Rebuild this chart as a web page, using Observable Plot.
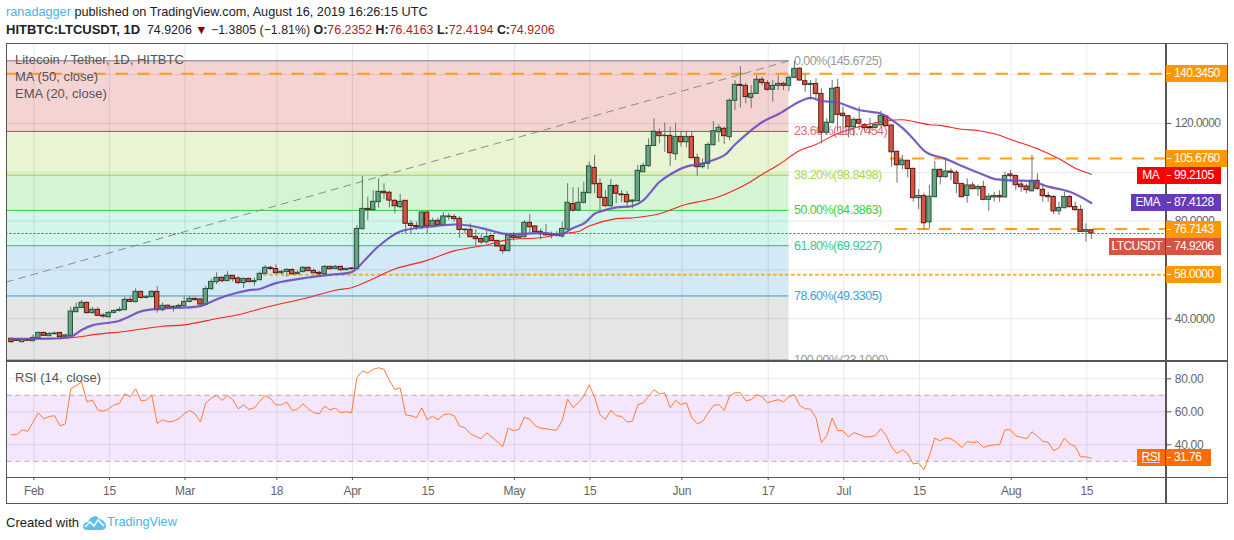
<!DOCTYPE html>
<html><head><meta charset="utf-8">
<script src="https://cdn.jsdelivr.net/npm/d3@7"></script>
<script src="https://cdn.jsdelivr.net/npm/@observablehq/plot@0.6"></script>
<style>
html,body{margin:0;padding:0;background:#fff;width:1234px;height:540px;overflow:hidden}
body{font-family:"Liberation Sans",Arial,sans-serif;position:relative}
#stage{position:absolute;left:0;top:0;width:1234px;height:540px}
#stage svg{position:absolute;left:0;top:0;background:transparent}
.t{position:absolute;white-space:nowrap}
.box{position:absolute;height:17px;line-height:17px;color:#fff;font-size:12px;letter-spacing:-.55px;box-sizing:border-box;white-space:nowrap}
.tick{position:absolute;left:1px;top:8px;width:4px;height:1px;background:#fff}
.line{position:absolute;background:#555}
</style></head><body><div id="stage"></div>
<script>
// ---------- daily candles, first candle = 28 Jan 2019 ----------
const firstDay = Date.UTC(2019, 0, 28);
const opens = [
31.8,31.35,30.4,31.35,30.8,32,34.2,32.85,33.65,34.2,
32.6,33,42.7,44.45,46.5,42.3,43.65,41.3,40.6,42.4,
43.2,43.5,47.75,46.8,51,48.55,48.85,51,43.5,45.3,
44.45,44.75,45.15,46.9,48.15,47.9,45.7,52.1,54.95,56.75,
55.4,57.6,56.5,54.6,56.3,55,55.8,58.4,60.85,60.4,
58.65,59.2,60,58.25,59.1,60.85,59.6,58.8,58.25,61.25,
60.4,61.25,59.9,60.6,60.3,76.7,85,84.5,87.75,92,
91.6,88.3,85.7,88.3,78.9,78,77.5,83.5,77.9,80.1,
78.2,81.6,81.7,80.9,76.5,76.4,73.5,72.7,71.3,73.9,
71.9,69.9,67.7,73.9,73.1,73.4,79.3,77.8,75.6,74.9,
74.5,74.5,73.7,76.5,87,84.3,87.5,91.4,101.8,95.25,
89.5,86.1,94.4,90.9,90.7,87.9,88.15,100,102.5,110.8,
116.2,114.8,114.9,107.4,114.5,112.3,114.5,105.9,102.1,103.45,
111.1,116.4,117.8,114.4,129.3,135.8,135.4,130.5,132.1,137.9,
136.5,133.8,135.4,136.2,135.4,138.7,142.4,137.3,135.8,136.2,
132.1,116.2,120.3,134.6,124,123,118.5,121.5,119.3,118.5,
118.1,119.2,122.85,119.15,108.4,102.9,104.7,101.4,89.4,90.3,
79.5,89.8,101,98,100.3,99.8,95.25,90.3,94.6,93.1,
94,88.7,89.7,90.3,89.7,99.1,98.5,95,94.2,92.2,
96.5,92.8,90.3,89.9,84,85.3,89.9,85.8,84.6,75.6,
76.2352];
const highs = [
32,31.8,31.8,31.5,33.4,34.6,34.6,34.2,34.5,34.35,
33.65,44.7,46.4,47.5,46.8,44.7,44.45,42.15,42.95,43.65,
44.7,48.85,48.85,52.25,51.3,49.5,51.55,53.2,46.5,45.7,
45.4,45.95,48.85,48.85,48.5,48.1,53.3,56.3,58.8,57.3,
59.3,57.8,57.3,56.7,56.7,56.7,59.1,61.8,61.5,62.1,
59.75,60.6,60.4,59.75,61.4,61.1,60.4,59.5,61.8,61.5,
61.8,61.5,60.7,60.85,78.2,98.3,89.8,92.5,97.3,95.3,
92.3,88.8,90.9,88.4,80.2,79.6,83.8,84.1,81.2,81.2,
83.5,83.2,82.7,81.9,76.7,78.9,76.5,74.4,75.9,74.2,
72,70.1,74.4,75.4,74.8,80.2,82.7,78,76.8,78.6,
75.5,75.7,79.6,95.3,93.6,93.6,95.9,104.1,106.9,97.3,
92.5,97,95,92.5,92.1,88.7,102.8,103.7,113.7,121.9,
117.8,120.25,118.5,120.1,116.7,116.8,116.4,107.5,105.5,112.1,
120.8,119.4,118.5,130.1,137.6,143.3,136.5,135.5,139.6,139,
137.6,137.6,139.6,136.9,139.6,145.67,143,140,137.6,138.3,
134.2,122,137.6,138,126.7,123.3,122.3,126.7,120,122,
120.5,125,123.1,119.4,108.6,106.9,105,101.7,92.9,91.4,
94.6,104.4,101.4,105.5,101.4,100.7,95.5,97.3,95.9,94.8,
96.3,91.2,91.8,92.5,100,100.7,98.8,96.6,95.2,106.9,
99.4,95.2,91.8,90.5,87.7,91.8,90.5,87.7,86.4,78.9,
76.4163];
const lows = [
30,30.7,30.1,30.7,30.7,31.8,32.7,32.7,33.5,32.3,
32.3,32.85,42.4,44.05,41.9,41.9,40.8,40.2,40.35,41.9,
42.7,43.4,46.8,46.5,48,48,48.55,42.3,42.95,44.05,
42.7,44.45,44.75,46.5,47.3,45.6,45.5,51.6,54,54.6,
55.2,55,54,52.4,54.7,53.3,55.6,58.1,59.75,58.1,
58.1,57,57.7,58,58.8,59.3,58.4,57.8,58,60,
60.1,59.3,59.6,59.9,60.15,76.4,80.2,84,85.3,88.8,
85.4,83,85,74.8,74.8,76.1,76.4,75,77.5,78,
77.9,80.2,79.6,72.9,74.8,73.1,70,70.4,70.7,71.5,
69.3,66.4,67.5,71.8,72.9,73.3,74.8,74.8,72.3,73.8,
72.7,73.4,73,76.4,83.6,84,87,91.2,91.2,84.3,
85.7,85.7,87.1,87.7,85.7,85,88,99.9,102.1,110.5,
111.65,108.2,102.4,104.8,110.3,110,105.5,98.4,101.4,101.1,
110.7,112.3,111.4,113,125.3,126.3,128,126,132,135.5,
133.2,128.7,133.5,133.5,133,138.3,137.3,132.8,129.7,130.1,
111.6,115,119.8,116.4,115,114.1,114.7,117.1,116.5,116,
117.8,118.9,118.5,102.1,95.5,101,97.7,87.7,84.7,76.4,
76.8,89.5,94.8,97.6,96.6,91.2,89.5,87.3,92.8,90.1,
88.4,84,87.7,87.7,89.5,95.9,92.5,91.8,91.2,92,
92.5,87.7,87.7,82.7,82.3,85,85.4,84,75.3,71.4,
72.4194];
const closes = [
30.4,30.95,31.35,30.95,32.15,34.2,33,33.8,33.95,32.45,
33.15,42.95,44.45,46.5,42.3,43.65,41.2,40.9,42.4,43.2,
43.65,47.75,46.9,51,48.55,48.85,51,43.5,45.3,44.3,
44.85,45.3,46.9,48.15,47.6,45.8,52.2,55.1,56.75,55.4,
57.6,56.2,54.6,56.3,55,55.5,58.4,60.85,60.4,58.65,
59.2,60,58.25,58.8,60.85,59.5,58.65,58.25,61.25,60.3,
61.25,59.9,60.4,60.3,76.8,85,84.5,87.9,92,91.4,
88.4,86.1,87.9,78.9,78,77.5,83.5,77.9,80.1,78.3,
81.9,81.9,80.8,76.4,76.3,73.4,72.6,71.3,73.5,71.8,
69.6,67.7,74.1,73.1,73.7,79.3,77.5,75.5,74.6,74.2,
74.1,74,76.8,87.5,84.3,87.5,91.6,102.4,95.1,89.5,
86.1,94.4,91.2,90.6,87.7,88.4,100.6,102.6,110.8,116.6,
114.8,115,107.8,114.5,112.3,114.5,105.8,102.1,103.45,111.2,
116.8,118.2,114.8,129.3,135.8,135.4,130.8,132.1,137.9,136.6,
133.8,135.4,136.2,135.4,138.7,142.4,137.6,135.8,136.2,132.1,
116.2,120.3,134.2,123.5,123,118.5,121.5,119.9,118.1,118.1,
119.3,123.1,118.9,108.2,102.9,104.8,101.3,89.4,90.3,79.1,
90,101,98,100.3,99.8,95.25,89.8,94.6,93.1,94,
88.7,90,90.3,89.7,98.5,98.4,94.7,93.9,92.7,96.5,
93.2,90.2,89.8,84,85.4,89.9,85.7,84.5,75.6,76.3,
74.9206];

// ---------- indicators (day index, value) ----------
const emaDays = [0,4,11,13,15,20,24,27,35,37,40,44,46,49,55,59,63,64,68,72,78,82,85,88,91,95,98,102,104,106,108,109,112,115,117,120,122,125,128,132,134,137,139,142,146,148,150,153,157,161,162,165,167,169,170,173,176,180,182,186,189,192,196,200];
const emaValues = [31.8,31.8,32.6,35.4,37.3,39.2,43,44.05,45.15,47,49.5,51.7,52.2,54.6,56.9,58,59.1,60.7,69.7,75.7,77.8,78.6,78.1,76.6,74.9,74.8,75.2,74.8,77.2,79,83,83.9,85.6,86.2,88.5,96,99.1,102.3,103.6,106.9,111.4,117.2,120.5,123.8,129,130.5,129.2,128.6,125.5,124.1,122.9,118.2,113.7,108.9,107.5,105.5,102.6,99,97.3,96.6,96.3,94.1,92,87.4128];
const maDays = [4,11,16,21,28,32,38,42,47,55,60,63,67,71,77,82,88,92,98,103,105,107,112,115,120,125,128,131,136,139,142,146,149,153,158,162,165,170,172,176,179,182,186,190,194,197,200];
const maValues = [31.8,32.2,33.7,34.8,36.9,37.5,40,41.6,44.6,48.7,51.7,52.7,56.4,60.4,63.9,67.8,70.2,72.4,73.2,75.1,75.7,78,81,81.3,83,86.9,88.2,90,95,99.1,103,108.9,111.4,115.9,119.3,121,121.5,119.5,119.2,117.6,117.1,115.75,112.7,109.6,105.5,101.7,99.2105];
const rsiValues = [
46.1,46.1,49.1,48.1,53.7,59.4,55.6,57.2,57.6,51.5,
52.7,73.9,75.8,78,66,67.1,61.2,60.4,61.8,64.2,
65,70.9,69.1,73.9,66.7,67.1,70.1,52.9,55.2,53.9,
54.3,55.8,58.8,60.8,58.8,53.9,65.3,68.3,69.9,66.9,
69.9,67.3,61.8,64.2,61.4,62.4,66.3,69.9,67.9,64.2,
64.2,65.9,60.8,61.6,64.8,61.8,59.4,58.8,63.4,61.2,
62.2,59.4,60,59.4,81,84.6,83.6,85.7,86.7,85.7,
79,73.5,74.5,58.2,57.6,56.4,62.4,55.2,57.4,55.2,
58.2,58.8,57.6,51.3,50.3,46.7,45.1,43.6,47.3,44.6,
41.8,38.8,50.1,48.5,49.3,56.8,55.4,51.5,50.1,49.7,
49.1,48.9,54.7,67.7,62.6,65.5,69.5,76.4,68.9,58.2,
55.4,61,57.6,57.2,53.9,54.3,64.2,65.4,69.3,73.3,
70.9,71.5,62.4,66.9,64.4,65.4,56.4,52.7,54.1,59.2,
63.8,64.4,60.8,69.5,71.5,71.5,66.7,67.3,70.3,69.3,
65.4,66.5,67.3,66.1,69.3,70.3,63.8,61.8,61.6,56.4,
41.2,45.6,56.2,48.7,48.5,44.8,47.3,46.3,44.8,44.8,
45.6,49.7,45.6,38.6,34.8,37,34.5,28.5,28.9,24.9,
33.5,44.2,42.4,44.2,43.6,41.6,38.2,42,41.4,41.8,
38.4,39.4,40,40,49.1,49.1,45.4,44.6,43.6,47.9,
45.3,42,41.6,36.4,38.2,44,40.6,39,32.7,32.7,
31.76];

// ---------- levels ----------
const fibRatios = ["0.00%","23.60%","38.20%","50.00%","61.80%","78.60%","100.00%"];
const fibPrices = [145.6725,116.7454,98.8498,84.3863,69.9227,49.3305,23.1];
const fibLineColors = ["#808080","#c9402f","#8fd12a","#2fcf2f","#2fb88f","#2d97d3","#808080"];
const fibTextColors = ["#9a9a9a","#e2696b","#a9d94d","#3ad03a","#33c79a","#3ba3de","#9a9a9a"];
const bandColors = ["#f4d3d3","#e9f4d2","#d4f4d4","#d2f6e9","#d3e9f5","#e5e5e5"];
const hLevels = [140.345,105.676,76.7143,58];
const hLevelStart = [-1,162.8,163.7,46.7];
const lastClose = 74.9206;
const priceGrid = [40,60,80,100,120,140];
const priceTicks = [40,80,120];
const rsiGrid = [40,60,80];
const rsiBand = [30,70];
const tickDates = ["2019-02-01","2019-02-15","2019-03-01","2019-03-18","2019-04-01","2019-04-15","2019-05-01","2019-05-15","2019-06-01","2019-06-17","2019-07-01","2019-07-15","2019-08-01","2019-08-15"].map(d=>new Date(d+"T00:00:00Z"));
const tickLabels = ["Feb","15","Mar","18","Apr","15","May","15","Jun","17","Jul","15","Aug","15"];
const trendDays = [-1,144];
const trendPrices = [55.0,145.67];

const day = i => new Date(firstDay + i*864e5);
const candles = opens.map((o,i)=>({d:day(i),a:day(i-0.4),b:day(i+0.4),o,h:highs[i],l:lows[i],c:closes[i]}));
const up = candles.filter(d=>d.c>=d.o), dn = candles.filter(d=>d.c<d.o);
const xDomain = [day(-0.815), day(213.78)];
const W = 1234, mL = 6.5, mR = W-1165.3;
const F = "Liberation Sans, Arial, sans-serif";
const gridDx = 0.8;
const fibEnd = day(144), fibStart = day(-1), xEnd = xDomain[1];

const bands = bandColors.map((c,i)=>({c,top:fibPrices[i],bot:fibPrices[i+1]}));

const pricePlot = Plot.plot({
  width:W,height:361,marginTop:43,marginBottom:1,marginLeft:mL,marginRight:mR,
  style:{background:"transparent",fontFamily:F,fontSize:"12px",overflow:"visible",letterSpacing:"-0.55px"},
  x:{type:"utc",domain:xDomain,axis:null},
  y:{domain:[22.89,152.76],axis:null},
  marks:[
    Plot.rect(bands,{x1:()=>fibStart,x2:()=>fibEnd,y1:"top",y2:"bot",fill:"c",clip:true}),
    Plot.ruleY(priceGrid,{stroke:"#000",strokeOpacity:0.085}),
    Plot.ruleX(tickDates,{dx:gridDx,stroke:"#000",strokeOpacity:0.09}),
    ...fibPrices.map((p,i)=>Plot.ruleY([p],{x1:fibStart,x2:fibEnd,stroke:fibLineColors[i],strokeWidth:1,clip:true})),
    Plot.line(trendDays.map((d,i)=>({d:day(d),v:trendPrices[i]})),{x:"d",y:"v",stroke:"#8a8a8a",strokeDasharray:"7 6",strokeWidth:1,clip:true}),
    ...fibPrices.map((p,i)=>Plot.text([fibRatios[i]+"("+p.toFixed(4)+")"],{x:()=>fibEnd,y:()=>p,dx:5,textAnchor:"start",fill:fibTextColors[i],fontSize:12.5,clip:true})),
    ...hLevels.map((v,i)=>Plot.ruleY([v],{x1:day(hLevelStart[i]),x2:xEnd,stroke:i==3?"#f5a623":"#ff9800",strokeWidth:2,strokeDasharray:i==3?"3.5 2.5":"12.3 9.7",strokeOpacity:.92,clip:true})),
    Plot.ruleY([lastClose],{x1:fibStart,x2:xEnd,stroke:"#c0392b",strokeDasharray:"2 2",strokeWidth:1,clip:true}),
    Plot.ruleX(candles,{x:"d",y1:"l",y2:"h",stroke:"#6f7173",strokeWidth:1}),
    Plot.rect(up,{x1:"a",x2:"b",y1:"o",y2:"c",fill:"#69a285",stroke:"#1f5738",strokeWidth:1}),
    Plot.rect(dn,{x1:"a",x2:"b",y1:"o",y2:"c",fill:"#d75442",stroke:"#5b1a13",strokeWidth:1}),
    Plot.line(maDays.map((d,i)=>({d:day(d),v:maValues[i]})),{x:"d",y:"v",stroke:"#f52525",strokeWidth:1.1,curve:"catmull-rom"}),
    Plot.line(emaDays.map((d,i)=>({d:day(d),v:emaValues[i]})),{x:"d",y:"v",stroke:"#6a4cc0",strokeWidth:2.2,strokeOpacity:.9,curve:"catmull-rom"}),
    Plot.axisY({anchor:"right",ticks:priceTicks,tickFormat:d3.format(".4f"),tickSize:5,tickPadding:4,fontSize:12,stroke:"#555",fill:"#666"})
  ]
});

const rsiPlot = Plot.plot({
  width:W,height:504,marginTop:361,marginBottom:27,marginLeft:mL,marginRight:mR,
  style:{background:"transparent",fontFamily:F,fontSize:"12px",overflow:"visible",letterSpacing:"-0.3px"},
  x:{type:"utc",domain:xDomain},
  y:{domain:[20.18,90.48]},
  marks:[
    Plot.rect([rsiBand],{x1:xDomain[0],x2:xDomain[1],y1:d=>d[0],y2:d=>d[1],fill:"#f4e7fd"}),
    Plot.ruleY(rsiGrid,{stroke:"#000",strokeOpacity:0.09}),
    Plot.ruleX(tickDates,{dx:gridDx,stroke:"#000",strokeOpacity:0.09}),
    Plot.ruleY(rsiBand,{stroke:"#b3aab8",strokeDasharray:"5 4"}),
    Plot.line(rsiValues.map((v,i)=>({d:day(i),v})),{x:"d",y:"v",stroke:"#ff7a33",strokeWidth:1}),
    Plot.axisX({ticks:tickDates,tickFormat:(d,i)=>tickLabels[i],tickSize:3,tickPadding:6,fontSize:12,stroke:"#555",fill:"#666",label:null,dx:gridDx}),
    Plot.axisY({anchor:"right",ticks:rsiGrid,tickFormat:d3.format(".2f"),tickSize:5,tickPadding:4,fontSize:12,stroke:"#555",fill:"#666",label:null})
  ]
});

const stage = document.getElementById("stage");
stage.append(pricePlot, rsiPlot);

const add = (html)=>stage.insertAdjacentHTML("beforeend",html);
// frame
add(`<div style="position:absolute;left:6px;top:43px;width:1220px;height:459px;border:1.5px solid #555"></div>`);
add(`<div class="line" style="left:6px;top:360px;width:1221px;height:1.5px"></div>`);
add(`<div class="line" style="left:6px;top:476.5px;width:1221px;height:1.5px"></div>`);
add(`<div class="line" style="left:1165px;top:43px;width:1.5px;height:460px"></div>`);

// header
add(`<div class="t" style="left:6px;top:5px;font-size:12.7px;color:#222"><span style="color:#4ab4e6">ranadagger</span> published on TradingView.com, August 16, 2019 16:26:15 UTC</div>`);
add(`<div class="t" style="left:6px;top:22px;font-size:12.4px;color:#222"><b style="font-size:13px">HITBTC:LTCUSDT, 1D</b> &nbsp;74.9206 <span style="color:#8b0000">▼</span> −1.3805 (−1.81%) <b>O:</b><span style="color:#b22222">76.2352</span> <b>H:</b><span style="color:#b22222">76.4163</span> <b>L:</b><span style="color:#b22222">72.4194</span> <b>C:</b><span style="color:#b22222">74.9206</span></div>`);
// pane legends
const legends = [["Litecoin / Tether, 1D, HITBTC",52],["MA (50, close)",69],["EMA (20, close)",86],["RSI (14, close)",370]];
legends.forEach(([s,t])=>add(`<div class="t" style="left:15px;top:${t}px;font-size:13px;color:#555">${s}</div>`));

// price-axis boxes
const box = (txt,l,w,t,c,tick,extra="")=>add(`<div class="box" style="left:${l}px;width:${w}px;top:${t}px;background:${c};${tick?'padding-left:8px':'text-align:center'};${extra}">${tick?'<i class="tick"></i>':''}${txt}</div>`);
const OR="#ff9800";
box("140.3450",1166,61,65,OR,1);
box("105.6760",1166,61,150,OR,1);
box("MA",1137,27.5,167,"#ff0000",0);
box("99.2105",1166,55,167,"#ff0000",1);
box("EMA",1131,33.5,194,"#673ab7",0);
box("87.4128",1166,55,194,"#673ab7",1);
box("76.7143",1166,55,221,OR,1);
box("LTCUSDT",1109,55.5,238,"#d75442",0);
box("74.9206",1166,55,238,"#d75442",1);
box("58.0000",1166,55,266,OR,1);
box("RSI",1137,27.5,449,"#ff6d00",0,"text-decoration:underline;text-decoration-color:#d9c8e0");
box("31.76",1166,44.5,449,"#ff6d00",1);

// footer
add(`<div class="t" style="left:6px;top:515px;font-size:13px;color:#222">Created with</div>`);
add(`<svg style="left:82px;top:514px;width:25px;height:17px" viewBox="0 0 25 17"><path d="M1 13 C1 9 4 8 6 8 C7 5 9 3 11 3 C13 1 16 2 17 5 C20 5 24 8 24 12 C24 15 21 16 19 16 L5 16 C3 16 1 15 1 13Z" fill="#5cc0e8"/><path d="M3 13 L8 8 L12 12 L16 6 L22 12" fill="none" stroke="#fff" stroke-width="1.6"/></svg>`);
add(`<div class="t" style="left:107px;top:515px;font-size:12.7px;color:#4ab4e6">TradingView</div>`);
</script></body></html>
